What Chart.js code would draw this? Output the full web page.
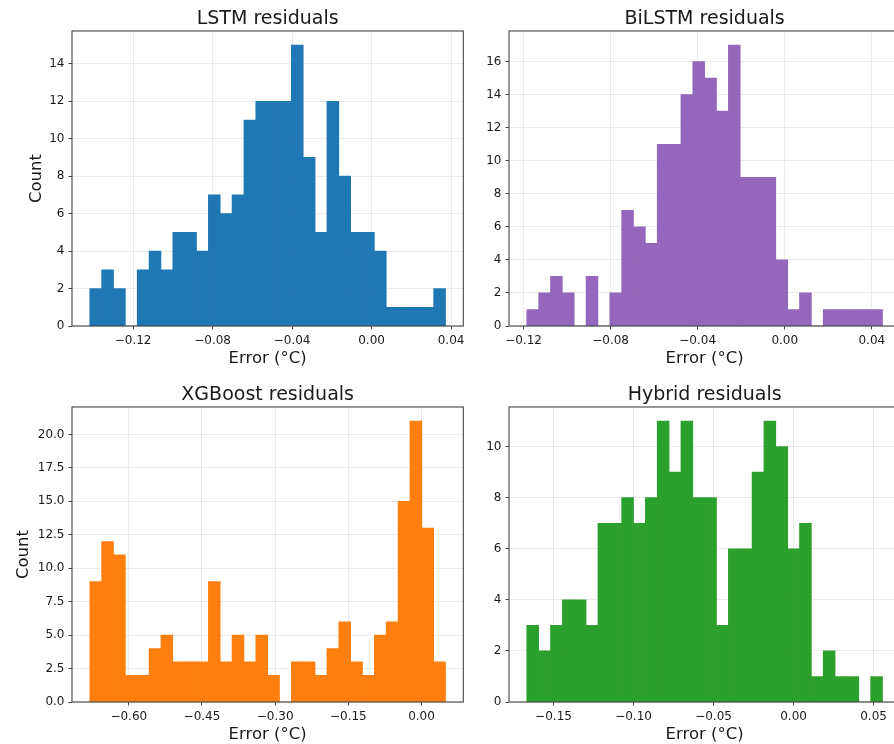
<!DOCTYPE html>
<html>
<head>
<meta charset="utf-8">
<script src="https://cdn.jsdelivr.net/npm/chart.js@4"></script>
<style>
  html, body { margin: 0; padding: 0; background: #fff; overflow: hidden; width: 894px; height: 744px; }
  #fig { position: relative; width: 894px; height: 744px; overflow: hidden; background: #fff; }
  .panel { position: absolute; width: 470px; height: 380px; }
</style>
</head>
<body>
<div id="fig">
  <div class="panel" style="left:0px;top:0px"><canvas id="c-lstm" width="470" height="380"></canvas></div>
  <div class="panel" style="left:437.3px;top:0px"><canvas id="c-bilstm" width="470" height="380"></canvas></div>
  <div class="panel" style="left:0px;top:376px"><canvas id="c-xgb" width="470" height="380"></canvas></div>
  <div class="panel" style="left:437.3px;top:376px"><canvas id="c-hybrid" width="470" height="380"></canvas></div>
</div>
<script>
// Residual histograms, 30 bins each: counts per bin and the bin range [first edge, last edge].
const lstmCounts   = [2, 3, 2, 0, 3, 4, 3, 5, 5, 4, 7, 6, 7, 11, 12, 12, 12, 15, 9, 5, 12, 8, 5, 5, 4, 1, 1, 1, 1, 2];
const lstmRange    = [-0.1418, 0.0372];
const lstmXTicks   = [-0.12, -0.08, -0.04, 0.00, 0.04];
const lstmYTicks   = [0, 2, 4, 6, 8, 10, 12, 14];

const bilstmCounts = [1, 2, 3, 2, 0, 3, 0, 2, 7, 6, 5, 11, 11, 14, 16, 15, 13, 17, 9, 9, 9, 4, 1, 2, 0, 1, 1, 1, 1, 1];
const bilstmRange  = [-0.1185, 0.0449];
const bilstmXTicks = [-0.12, -0.08, -0.04, 0.00, 0.04];
const bilstmYTicks = [0, 2, 4, 6, 8, 10, 12, 14, 16];

const xgbCounts    = [9, 12, 11, 2, 2, 4, 5, 3, 3, 3, 9, 3, 5, 3, 5, 2, 0, 3, 3, 2, 4, 6, 3, 2, 5, 6, 15, 21, 13, 3];
const xgbRange     = [-0.6800, 0.0492];
const xgbXTicks    = [-0.60, -0.45, -0.30, -0.15, 0.00];
const xgbYTicks    = [0, 2.5, 5, 7.5, 10, 12.5, 15, 17.5, 20];

const hybridCounts = [3, 2, 3, 4, 4, 3, 7, 7, 8, 7, 8, 11, 9, 11, 8, 8, 3, 6, 6, 9, 11, 10, 6, 7, 1, 2, 1, 1, 0, 1];
const hybridRange  = [-0.1667, 0.0556];
const hybridXTicks = [-0.15, -0.10, -0.05, 0.00, 0.05];
const hybridYTicks = [0, 2, 4, 6, 8, 10];

const FONT = "'DejaVu Sans', sans-serif";
const SPINE = '#444';
const TEXT = '#1a1a1a';

function binCenters(range, n) {
  const w = (range[1] - range[0]) / n;
  return Array.from({ length: n }, (_, i) => range[0] + (i + 0.5) * w);
}

function fmt(v, dec) {
  const s = Math.abs(v) < 1e-12 ? (0).toFixed(dec) : v.toFixed(dec);
  return s.replace('-', '\u2212');
}

// Frame round the plot area and the panel title centred over it.
const framePlugin = {
  id: 'frameAndTitle',
  afterDraw(chart, args, opts) {
    const { ctx, chartArea: a } = chart;
    ctx.save();
    ctx.strokeStyle = SPINE;
    ctx.lineWidth = 1.1;
    ctx.strokeRect(a.left, a.top, a.right - a.left, a.bottom - a.top);
    ctx.fillStyle = TEXT;
    ctx.font = '19px ' + FONT;
    ctx.textAlign = 'center';
    ctx.textBaseline = 'middle';
    ctx.fillText(opts.text, (a.left + a.right) / 2, 19);
    ctx.restore();
  }
};

function makePanel(id, p) {
  const n = p.counts.length;
  const centers = binCenters(p.range, n);
  const span = p.range[1] - p.range[0];
  const xMin = p.range[0] - 0.05 * span;
  const xMax = p.range[1] + 0.05 * span;
  const yMax = Math.max(...p.counts) * 1.05;
  const gridColor = 'rgba(176,176,176,0.32)';

  new Chart(document.getElementById(id), {
    type: 'bar',
    data: {
      datasets: [{
        data: centers.map((x, i) => ({ x: x, y: p.counts[i] })),
        backgroundColor: p.color,
        borderWidth: 0,
        barPercentage: 1.0,
        categoryPercentage: 1.0
      }]
    },
    options: {
      responsive: false,
      animation: false,
      events: [],
      layout: { padding: { top: 31, left: 0, right: 6.7, bottom: 4 } },
      plugins: {
        legend: { display: false },
        tooltip: { enabled: false },
        frameAndTitle: { text: p.title }
      },
      scales: {
        x: {
          type: 'linear',
          min: xMin,
          max: xMax,
          offset: false,
          z: 1,
          afterBuildTicks: s => { s.ticks = p.xTicks.map(v => ({ value: v })); },
          afterFit: s => { s.height = 50; },
          border: { display: false },
          grid: { offset: false, color: gridColor, lineWidth: 0.8, drawTicks: true, tickLength: 3.5, tickColor: SPINE, tickWidth: 1 },
          ticks: {
            autoSkip: false, maxRotation: 0, minRotation: 0, padding: 4,
            color: TEXT, font: { family: FONT, size: 12 },
            callback: v => fmt(v, p.xDec)
          },
          title: {
            display: true, text: 'Error (\u00B0C)', color: TEXT,
            font: { family: FONT, size: 16.5 }, padding: { top: 0, bottom: 7.5 }
          }
        },
        y: {
          type: 'linear',
          min: 0,
          max: yMax,
          z: 1,
          afterBuildTicks: s => { s.ticks = p.yTicks.map(v => ({ value: v })); },
          afterFit: s => { s.width = 72; },
          border: { display: false },
          grid: { color: gridColor, lineWidth: 0.8, drawTicks: true, tickLength: 3.5, tickColor: SPINE, tickWidth: 1 },
          ticks: {
            autoSkip: false, padding: 4,
            color: TEXT, font: { family: FONT, size: 12 },
            callback: v => fmt(v, p.yDec)
          },
          title: {
            display: p.yLabel, text: 'Count', color: TEXT,
            font: { family: FONT, size: 16.5 }, padding: { top: p.yLabelPad, bottom: 0 }
          }
        }
      }
    },
    plugins: [framePlugin]
  });
}

makePanel('c-lstm', {
  title: 'LSTM residuals', counts: lstmCounts, range: lstmRange, xTicks: lstmXTicks, yTicks: lstmYTicks,
  xDec: 2, yDec: 0, color: '#1f77b4', yLabel: true, yLabelPad: 27
});
makePanel('c-bilstm', {
  title: 'BiLSTM residuals', counts: bilstmCounts, range: bilstmRange, xTicks: bilstmXTicks, yTicks: bilstmYTicks,
  xDec: 2, yDec: 0, color: '#9467bd', yLabel: false, yLabelPad: 0
});
makePanel('c-xgb', {
  title: 'XGBoost residuals', counts: xgbCounts, range: xgbRange, xTicks: xgbXTicks, yTicks: xgbYTicks,
  xDec: 2, yDec: 1, color: '#ff7f0e', yLabel: true, yLabelPad: 14
});
makePanel('c-hybrid', {
  title: 'Hybrid residuals', counts: hybridCounts, range: hybridRange, xTicks: hybridXTicks, yTicks: hybridYTicks,
  xDec: 2, yDec: 0, color: '#2ca02c', yLabel: false, yLabelPad: 0
});
</script>
</body>
</html>
